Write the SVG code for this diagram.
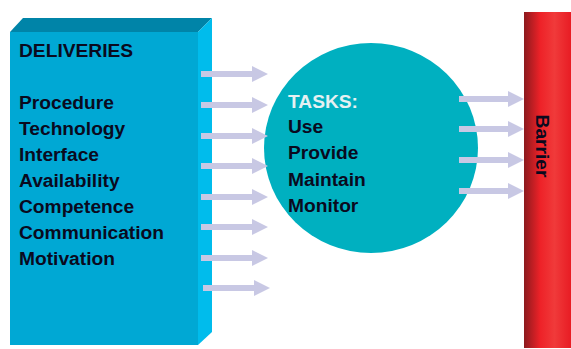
<svg xmlns="http://www.w3.org/2000/svg" width="571" height="349" viewBox="0 0 571 349">
<style>
.t{font-family:"Liberation Sans",Arial,sans-serif;font-weight:bold;font-size:19.2px;fill:#0a0a1e}
.w{fill:#e6f0f2}
.ar{fill:#c8c8e4}
</style>
<defs>
<linearGradient id="bar" x1="0" y1="0" x2="1" y2="0">
<stop offset="0" stop-color="#8c1a1e"/>
<stop offset="0.35" stop-color="#ee2228"/>
<stop offset="0.65" stop-color="#f03a3a"/>
<stop offset="1" stop-color="#e81c24"/>
</linearGradient>
<path id="arw" d="M0,-3 H51 V-8 L67,0 L51,8 V3 H0 Z"/>
</defs>
<rect width="571" height="349" fill="#fff"/>
<g id="deliveries">
<polygon points="10,32 23,18 212,18 198,32" fill="#0084a8"/>
<polygon points="198,32 212,18 212,332 198,345" fill="#00bcec"/>
<rect x="10" y="32" width="188" height="313" fill="#00a8d4"/>
<text class="t" x="19" y="57">DELIVERIES</text>
<text class="t" x="19" y="109">Procedure</text>
<text class="t" x="19" y="135">Technology</text>
<text class="t" x="19" y="161">Interface</text>
<text class="t" x="19" y="187">Availability</text>
<text class="t" x="19" y="213">Competence</text>
<text class="t" x="19" y="239">Communication</text>
<text class="t" x="19" y="265">Motivation</text>
</g>
<g id="tasks">
<ellipse cx="371" cy="148" rx="107" ry="105" fill="#00b0c0"/>
<text class="t w" x="288" y="108">TASKS:</text>
<text class="t" x="288" y="133">Use</text>
<text class="t" x="288" y="159">Provide</text>
<text class="t" x="288" y="186">Maintain</text>
<text class="t" x="288" y="212">Monitor</text>
</g>
<g id="barrier">
<rect x="524" y="12" width="47" height="336" fill="url(#bar)"/>
<text class="t" transform="translate(536,146) rotate(90)" text-anchor="middle">Barrier</text>
</g>
<g id="connectors" class="ar">
<use href="#arw" x="201" y="74"/>
<use href="#arw" x="201" y="105"/>
<use href="#arw" x="201" y="136"/>
<use href="#arw" x="201" y="166"/>
<use href="#arw" x="201" y="197"/>
<use href="#arw" x="201" y="227"/>
<use href="#arw" x="201" y="258"/>
<use href="#arw" x="203" y="288"/>
<path d="M459,96 H508 V91 L524,99 L508,107 V102 H459 Z"/>
<path d="M459,126 H508 V121 L524,129 L508,137 V132 H459 Z"/>
<path d="M459,157 H508 V152 L524,160 L508,168 V163 H459 Z"/>
<path d="M459,188 H508 V183 L524,191 L508,199 V194 H459 Z"/>
</g>
</svg>
